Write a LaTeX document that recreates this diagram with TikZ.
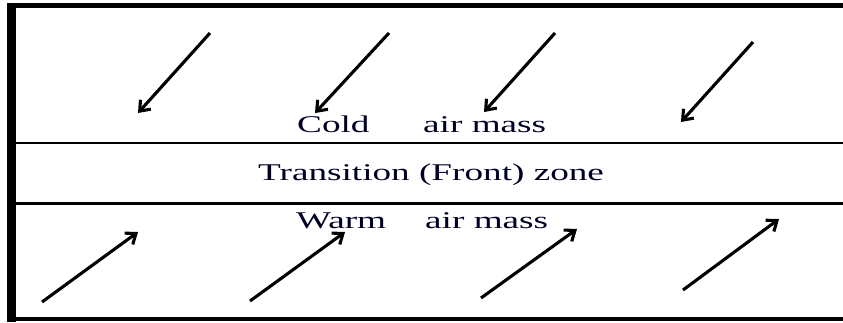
\documentclass[tikz,border=0pt]{standalone}
\usepackage{fontspec}
\setmainfont{Liberation Serif}
\usetikzlibrary{arrows.meta}
\newcommand{\wide}[1]{\scalebox{1.55}[1]{#1}}
\tikzset{
  wind/.style={line width=3.1pt, -{Straight Barb[length=9pt,width=14pt,line width=3.1pt]}},
  sep/.style={line width=2.2pt},
  lbl/.style={anchor=base west, inner sep=0pt, font=\fontsize{24}{28}\selectfont, text=black!85!blue}
}
\begin{document}
\begin{tikzpicture}[x=1pt,y=-1pt]
\useasboundingbox (0,0) rectangle (843,322);
\fill[white] (0,0) rectangle (843,322);
% frame
\fill[black] (7,3) rectangle (16,322);
\fill[black] (7,3) rectangle (843,8);
\fill[black] (7,317) rectangle (843,321);
% separators
\coordinate (s1l) at (16,143);
\coordinate (s1r) at (843,143);
\coordinate (s2l) at (16,203.5);
\coordinate (s2r) at (843,203.5);
\draw[sep] (s1l) -- (s1r);
\draw[sep] (s2l) -- (s2r);
% labels
\node[lbl] (cold) at (297,132) {\wide{Cold}};
\node[lbl] (air1) at (423,132) {\wide{air mass}};
\node[lbl] (front) at (258,180) {\wide{Transition (Front) zone}};
\node[lbl] (warm) at (296,228) {\wide{Warm}};
\node[lbl] (air2) at (425,228) {\wide{air mass}};
% cold arrows
\coordinate (c1s) at (210,33);  \coordinate (c1e) at (138,113);
\coordinate (c2s) at (389,33);  \coordinate (c2e) at (315,113);
\coordinate (c3s) at (555,33);  \coordinate (c3e) at (484,112);
\coordinate (c4s) at (753,42);  \coordinate (c4e) at (681,122);
\draw[wind] (c1s) -- (c1e);
\draw[wind] (c2s) -- (c2e);
\draw[wind] (c3s) -- (c3e);
\draw[wind] (c4s) -- (c4e);
% warm arrows
\coordinate (w1s) at (42,302);  \coordinate (w1e) at (138,232);
\coordinate (w2s) at (250,301); \coordinate (w2e) at (345,232);
\coordinate (w3s) at (481,298); \coordinate (w3e) at (577,229);
\coordinate (w4s) at (683,290); \coordinate (w4e) at (779,219);
\draw[wind] (w1s) -- (w1e);
\draw[wind] (w2s) -- (w2e);
\draw[wind] (w3s) -- (w3e);
\draw[wind] (w4s) -- (w4e);
\end{tikzpicture}
\end{document}
